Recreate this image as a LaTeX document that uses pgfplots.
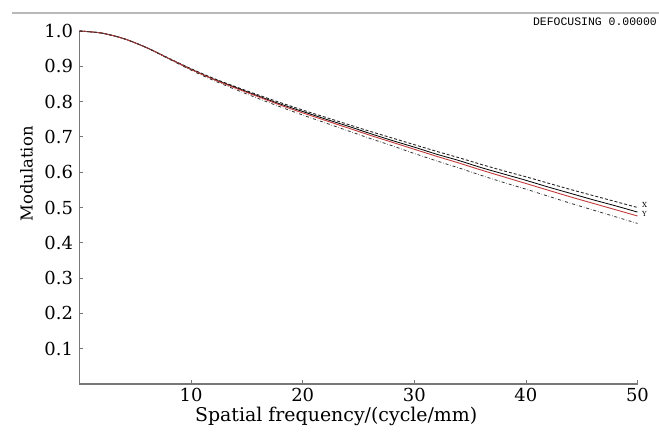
\documentclass[border=0pt]{standalone}
\usepackage{pgfplots}
\pgfplotsset{compat=1.18}
\usepackage{pgfplotstable}
\usepackage{fontspec}
\setmainfont{DejaVu Serif}
\newfontfamily\mono{Liberation Mono}
\definecolor{axgray}{HTML}{777777}
\definecolor{mtfred}{HTML}{C23B3B}

\pgfplotstableread{
x y
0 1.000
2 0.994
4 0.978
6 0.953
8 0.923
10 0.893
12 0.866
14 0.842
16 0.819
18 0.797
20 0.776
22 0.756
24 0.736
26 0.716
28 0.697
30 0.678
32 0.659
34 0.641
36 0.622
38 0.604
40 0.587
42 0.569
44 0.551
46 0.534
48 0.517
50 0.500
}\curveA

\pgfplotstableread{
x y
0 1.000
2 0.994
4 0.978
6 0.953
8 0.922
10 0.892
12 0.864
14 0.840
16 0.816
18 0.793
20 0.772
22 0.751
24 0.731
26 0.710
28 0.690
30 0.671
32 0.651
34 0.633
36 0.613
38 0.595
40 0.577
42 0.558
44 0.540
46 0.522
48 0.505
50 0.487
}\curveB

\pgfplotstableread{
x y
0 1.000
2 0.994
4 0.978
6 0.953
8 0.922
10 0.891
12 0.863
14 0.838
16 0.814
18 0.790
20 0.768
22 0.747
24 0.726
26 0.705
28 0.685
30 0.665
32 0.645
34 0.626
36 0.606
38 0.587
40 0.568
42 0.549
44 0.530
46 0.512
48 0.494
50 0.476
}\curveC

\pgfplotstableread{
x y
0 1.000
2 0.994
4 0.978
6 0.953
8 0.921
10 0.889
12 0.860
14 0.834
16 0.809
18 0.785
20 0.762
22 0.740
24 0.718
26 0.696
28 0.675
30 0.653
32 0.632
34 0.612
36 0.591
38 0.571
40 0.552
42 0.532
44 0.512
46 0.493
48 0.474
50 0.455
}\curveD

\begin{document}
\begin{tikzpicture}
\useasboundingbox (-79.5bp,-50bp) rectangle (579.5bp,384bp);
\fill[white] (-79.5bp,-50bp) rectangle (579.5bp,384bp);
\draw[line width=1.6bp, gray!55] (-67.5bp,371bp) -- (579.5bp,371bp);
\node[anchor=base east, inner sep=0pt, font=\mono\fontsize{11.5}{13}\selectfont] at (577.5bp,358bp) {DEFOCUSING 0.00000};
\begin{axis}[
  at={(0,0)}, anchor=origin,
  scale only axis,
  width=558bp, height=353bp,
  xmin=0, xmax=50, ymin=0, ymax=1,
  axis x line=bottom, axis y line=left,
  axis line style={-, axgray, line width=1.1bp},
  xtick={10,20,30,40,50},
  ytick={0.1,0.2,0.3,0.4,0.5,0.6,0.7,0.8,0.9,1.0},
  tick align=inside,
  major tick length=4bp,
  tick style={axgray, line width=0.8bp},
  /pgf/number format/assume math mode=true,
  yticklabel style={/pgf/number format/fixed, /pgf/number format/fixed zerofill, /pgf/number format/precision=1, font=\fontsize{18}{20}\selectfont, xshift=-3bp},
  xticklabel style={font=\fontsize{18}{20}\selectfont, yshift=-1bp},
  xlabel={Spatial frequency/(cycle/mm)},
  ylabel={Modulation},
  xlabel style={font=\fontsize{19}{21}\selectfont, at={(axis description cs:0.46,0)}, anchor=north, yshift=-20bp},
  ylabel style={font=\fontsize{16.5}{18}\selectfont, at={(axis description cs:-0.095,0.595)}, anchor=center},
  clip=false,
]
\addplot[black!85, densely dashed, line width=0.9bp, smooth] table {\curveA};
\addplot[black, line width=0.8bp, smooth] table {\curveB};
\addplot[mtfred, line width=0.9bp, smooth] table {\curveC};
\addplot[black!80, dash dot, line width=0.8bp, smooth] table {\curveD};
\node[anchor=west, font=\fontsize{7}{8}\selectfont, inner sep=1bp] at (axis cs:50.3,0.507) {X};
\node[anchor=west, font=\fontsize{7}{8}\selectfont, inner sep=1bp] at (axis cs:50.3,0.482) {Y};
\end{axis}
\end{tikzpicture}
\end{document}
